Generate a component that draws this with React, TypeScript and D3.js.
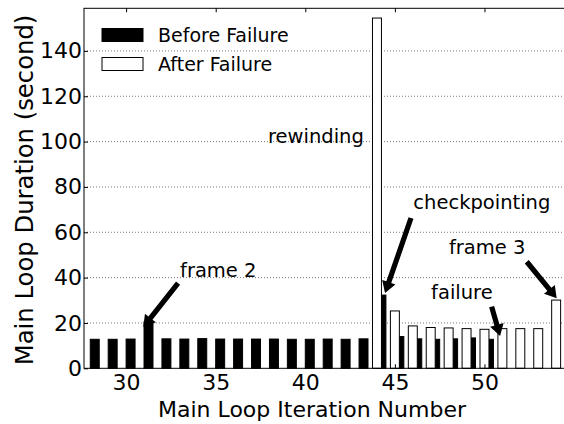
import React, { useRef, useEffect } from "react";
import { select, scaleLinear, axisLeft, axisBottom, axisTop } from "d3";

// iterations and durations (seconds)
const beforeIters = [28, 29, 30, 31, 32, 33, 34, 35, 36, 37, 38, 39, 40, 41, 42, 43, 44, 45, 46, 47, 48, 49, 50];
const beforeValues = [12.8, 12.8, 12.9, 20.5, 13, 12.9, 13.1, 12.9, 12.9, 12.9, 12.9, 12.8, 12.8, 12.9, 12.8, 13, 32.3, 14, 13, 12.8, 13, 13.4, 12.8];
const afterIters = [44, 45, 46, 47, 48, 49, 50, 51, 52, 53, 54];
const afterValues = [154.5, 25.3, 18.7, 18, 17.8, 17.5, 17.2, 17.5, 17.5, 17.5, 30.1];

const xTicks = [30, 35, 40, 45, 50];
const yTicks = [0, 20, 40, 60, 80, 100, 120, 140];
const legendLabels = ["Before Failure", "After Failure"];

// annotation arrows: tip / tail in data units, text anchor in data units
const notes = [
  { label: "frame 2", text: [33.01, 40.4], tail: [32.9, 37.6], tip: [30.96, 18.2] },
  { label: "checkpointing", text: [46.03, 70.1], tail: [45.9, 66.3], tip: [44.45, 33.2] },
  { label: "frame 3", text: [48.02, 50.4], tail: [52.36, 47.0], tip: [54.03, 30.9] },
  { label: "failure", text: [47.02, 30.4], tail: [50.4, 27.2], tip: [50.87, 14.25] },
  { label: "rewinding", text: [37.92, 99.3], tail: null, tip: null },
];

const W = 564;
const H = 424;
const left = 84;
const right = 566;
const top = 8.3;
const bottom = 368.3;
const FONT = "DejaVu Sans, sans-serif";

function arrowPath(x1: number, y1: number, x2: number, y2: number) {
  const dx = x2 - x1;
  const dy = y2 - y1;
  const len = Math.hypot(dx, dy);
  const ux = dx / len;
  const uy = dy / len;
  const px = -uy;
  const py = ux;
  const sw = 2.6; // shaft half width
  const hw = 7; // head half width
  const hl = 11.5; // head length
  const bx = x2 - ux * hl;
  const by = y2 - uy * hl;
  const pts = [
    [x1 + px * sw, y1 + py * sw],
    [bx + px * sw, by + py * sw],
    [bx + px * hw, by + py * hw],
    [x2, y2],
    [bx - px * hw, by - py * hw],
    [bx - px * sw, by - py * sw],
    [x1 - px * sw, y1 - py * sw],
  ];
  return "M" + pts.map((p) => p[0].toFixed(2) + "," + p[1].toFixed(2)).join("L") + "Z";
}

function BarChart() {
  const svgRef = useRef<SVGSVGElement>(null);

  const xScale = scaleLinear().domain([27.65, 54.55]).range([left, right]);
  const yScale = scaleLinear().domain([0, 158.8]).range([bottom, top]);

  useEffect(() => {
    const svg = select(svgRef.current);

    const xAxis = axisBottom(xScale).tickValues(xTicks).tickSize(-4).tickSizeOuter(0).tickPadding(6);
    svg
      .select<SVGGElement>(".x-axis")
      .attr("transform", `translate(0, ${bottom})`)
      .call(xAxis)
      .call((g) => g.select(".domain").remove())
      .selectAll("text")
      .attr("font-size", 22)
      .attr("font-family", FONT)
      .attr("fill", "#000");

    const xTop = axisTop(xScale).tickValues(xTicks).tickSize(-4).tickSizeOuter(0).tickFormat(() => "");
    svg
      .select<SVGGElement>(".x-top")
      .attr("transform", `translate(0, ${top})`)
      .call(xTop)
      .call((g) => g.select(".domain").remove());

    const yAxis = axisLeft(yScale).tickValues(yTicks).tickSize(-4).tickSizeOuter(0).tickPadding(2);
    svg
      .select<SVGGElement>(".y-axis")
      .attr("transform", `translate(${left}, 0)`)
      .call(yAxis)
      .call((g) => g.select(".domain").remove())
      .selectAll("text")
      .attr("font-size", 22)
      .attr("font-family", FONT)
      .attr("fill", "#000");

    svg.selectAll(".tick line").attr("stroke", "#000");
  }, []);

  return (
    <svg ref={svgRef} width={W} height={H} style={{ position: "absolute", left: 0, top: 0, background: "#fff" }}>
      <rect x={0} y={0} width={W} height={H} fill="#fff" />
      {/* grid */}
      <g>
        {yTicks.filter((t) => t > 0).map((t) => (
          <line key={t} x1={left} x2={right} y1={yScale(t)} y2={yScale(t)} stroke="#777" strokeWidth={1} strokeDasharray="1,2" />
        ))}
      </g>
      {/* before failure bars */}
      <g>
        {beforeIters.map((it, i) => (
          <rect
            key={"b" + it}
            x={xScale(it)}
            y={yScale(beforeValues[i])}
            width={xScale(it + 0.5) - xScale(it)}
            height={bottom - yScale(beforeValues[i])}
            fill="#000"
            stroke="#000"
            strokeWidth={1}
          />
        ))}
      </g>
      {/* after failure bars */}
      <g>
        {afterIters.map((it, i) => (
          <rect
            key={"a" + it}
            x={xScale(it - 0.25)}
            y={yScale(afterValues[i])}
            width={xScale(it + 0.25) - xScale(it - 0.25)}
            height={bottom - yScale(afterValues[i])}
            fill="#fff"
            stroke="#000"
            strokeWidth={1}
          />
        ))}
      </g>
      <g className="x-axis" />
      <g className="x-top" />
      <g className="y-axis" />
      {/* frame */}
      <rect x={left} y={top} width={right - left} height={bottom - top} fill="none" stroke="#000" strokeWidth={1} />
      {/* legend */}
      <g fontFamily={FONT} fontSize={19}>
        <rect x={102} y={28.5} width={41} height={13} fill="#000" stroke="#000" />
        <text x={158} y={41.7}>{legendLabels[0]}</text>
        <rect x={102} y={57.5} width={41} height={13} fill="#fff" stroke="#000" />
        <text x={158} y={71}>{legendLabels[1]}</text>
      </g>
      {/* annotations */}
      <g fontFamily={FONT} fontSize={19.5}>
        {notes.map((n) => (
          <g key={n.label}>
            <text x={xScale(n.text[0])} y={yScale(n.text[1])} fill="#000">
              {n.label}
            </text>
            {n.tip && n.tail && (
              <path
                d={arrowPath(xScale(n.tail[0]), yScale(n.tail[1]), xScale(n.tip[0]), yScale(n.tip[1]))}
                fill="#000"
              />
            )}
          </g>
        ))}
      </g>
      {/* axis titles */}
      <text x={312} y={416.5} textAnchor="middle" fontFamily={FONT} fontSize={22}>
        Main Loop Iteration Number
      </text>
      <text
        transform={`translate(33, ${190}) rotate(-90)`}
        textAnchor="middle"
        fontFamily={FONT}
        fontSize={24.3}
      >
        Main Loop Duration (second)
      </text>
    </svg>
  );
}

export default function App() {
  return <BarChart />;
}
